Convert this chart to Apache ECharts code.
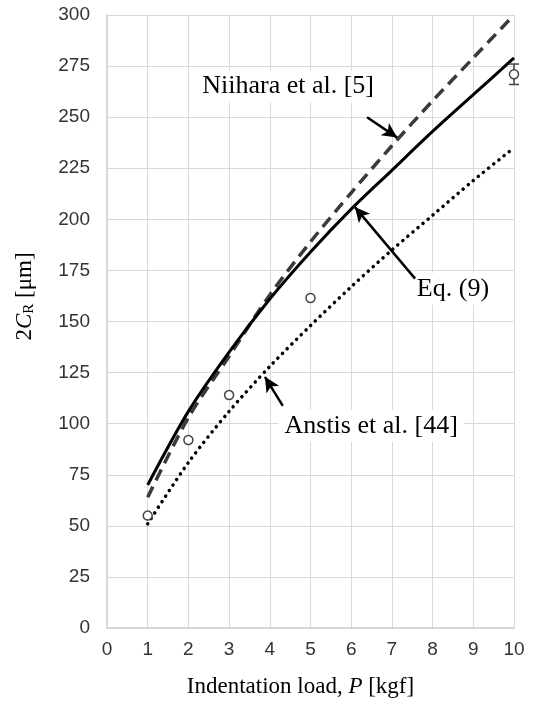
<!DOCTYPE html>
<html>
<head>
<meta charset="utf-8">
<script src="https://cdn.jsdelivr.net/npm/echarts@6/dist/echarts.min.js"></script>
<style>
  html, body { margin: 0; padding: 0; background: #fff; }
  #chart { width: 535px; height: 706px; }
</style>
</head>
<body>
<div id="chart"></div>
<script>
// indentation load P [kgf]
const loads = [1, 2, 3, 4, 5, 6, 7, 8, 9, 10]
// curves
const eq9 = [70, 106, 135, 161, 184, 205, 224, 243, 261, 279]
const niihara = [64, 103, 133, 163, 189, 213, 236, 258, 279, 300]
const anstis = [51, 81, 106, 128, 148, 167, 185, 202, 219, 235]
// measured points
const expLoads = [1, 2, 3, 5, 10]
const expCrack = [55, 92, 114, 161.5, 271]
const expErr = [0, 0, 0, 0, 5]

const pair = (xs, ys) => xs.map((x, i) => [x, ys[i]])

const serif = 'Liberation Serif'
const sans = 'Liberation Sans'

// annotation text and arrows (data coordinates)
const notes = [
  { text: 'Niihara et al. [5]', at: [4.45, 265], from: [6.39, 250], to: [7.13, 240] },
  { text: 'Eq. (9)', at: [8.5, 166], from: [7.57, 171], to: [6.09, 206] },
  { text: 'Anstis et al. [44]', at: [6.49, 99], from: [4.32, 108.7], to: [3.88, 122.9] }
]

const chart = echarts.init(document.getElementById('chart'))
const option = {
  animation: false,
  grid: { left: 107, right: 21, top: 15, bottom: 78 },
  xAxis: {
    type: 'value', min: 0, max: 10, interval: 1,
    name: '{n|Indentation load, }{i|P}{n| [kgf]}',
    nameLocation: 'middle', nameGap: 47,
    nameTextStyle: {
      padding: [0, 20, 0, 0],
      rich: {
        n: { fontFamily: serif, fontSize: 23, color: '#000' },
        i: { fontFamily: serif, fontSize: 23, fontStyle: 'italic', color: '#000' }
      }
    },
    axisLine: { show: true, lineStyle: { color: '#d0d0d0', width: 1.5 } },
    axisTick: { show: false },
    axisLabel: { fontFamily: sans, fontSize: 19, color: '#333', margin: 12 },
    splitLine: { lineStyle: { color: '#d9d9d9', width: 1 } }
  },
  yAxis: {
    type: 'value', min: 0, max: 300, interval: 25,
    name: '{n|2}{i|C}{s|R}{n| [μm]}',
    nameLocation: 'middle', nameGap: 70, nameRotate: 90,
    nameTextStyle: {
      padding: [0, 0, 0, 50],
      rich: {
        n: { fontFamily: serif, fontSize: 23, color: '#000' },
        i: { fontFamily: serif, fontSize: 23, fontStyle: 'italic', color: '#000' },
        s: { fontFamily: serif, fontSize: 15, color: '#000', verticalAlign: 'bottom', padding: [9, 0, 0, 0] }
      }
    },
    axisLine: { show: true, lineStyle: { color: '#d0d0d0', width: 1.5 } },
    axisTick: { show: false },
    axisLabel: { fontFamily: sans, fontSize: 19, color: '#333', margin: 17 },
    splitLine: { lineStyle: { color: '#d9d9d9', width: 1 } }
  },
  series: [
    {
      name: 'Anstis', type: 'line', data: pair(loads, anstis), smooth: 0.3,
      showSymbol: false, z: 3,
      lineStyle: { color: '#000', width: 3.5, type: [0.1, 6.5], cap: 'round' }
    },
    {
      name: 'Niihara', type: 'line', data: pair(loads, niihara), smooth: 0.3,
      showSymbol: false, z: 3,
      lineStyle: { color: '#3a3a3a', width: 3.5, type: [12, 7] }
    },
    {
      name: 'Eq9', type: 'line', data: pair(loads, eq9), smooth: 0.3,
      showSymbol: false, z: 4,
      lineStyle: { color: '#000', width: 3 },
      markLine: {
        silent: true, symbol: ['none', 'arrow'], symbolSize: [11, 15],
        label: { show: false },
        lineStyle: { color: '#000', width: 2.5, type: 'solid' },
        data: notes.map(n => [{ coord: n.from }, { coord: n.to }])
      }
    },
    {
      name: 'exp', type: 'scatter', data: pair(expLoads, expCrack), z: 5,
      symbol: 'circle', symbolSize: 9,
      itemStyle: { color: '#fff', borderColor: '#444', borderWidth: 1.5, opacity: 1 }
    },
    {
      name: 'err', type: 'custom', z: 5,
      data: expLoads.map((x, i) => [x, expCrack[i] - expErr[i], expCrack[i] + expErr[i]]).filter(d => d[2] > d[1]),
      renderItem: function (params, api) {
        const lo = api.coord([api.value(0), api.value(1)])
        const hi = api.coord([api.value(0), api.value(2)])
        const w = 5
        const st = { stroke: '#444', lineWidth: 1.5 }
        return {
          type: 'group',
          children: [
            { type: 'line', shape: { x1: hi[0], y1: hi[1], x2: hi[0], y2: hi[1] + 6 }, style: st },
            { type: 'line', shape: { x1: lo[0], y1: lo[1], x2: lo[0], y2: lo[1] - 6 }, style: st },
            { type: 'line', shape: { x1: hi[0] - w, y1: hi[1], x2: hi[0] + w, y2: hi[1] }, style: st },
            { type: 'line', shape: { x1: lo[0] - w, y1: lo[1], x2: lo[0] + w, y2: lo[1] }, style: st }
          ]
        }
      }
    },
    {
      name: 'notes', type: 'scatter', z: 2, symbolSize: 0,
      data: notes.map(n => ({ value: n.at, name: n.text })),
      itemStyle: { opacity: 1 },
      label: {
        show: true, position: 'inside', formatter: '{b}',
        fontFamily: serif, fontSize: 26, color: '#000', opacity: 1,
        backgroundColor: '#fff', padding: [3, 6]
      }
    }
  ]
}
chart.setOption(option)
</script>
</body>
</html>
